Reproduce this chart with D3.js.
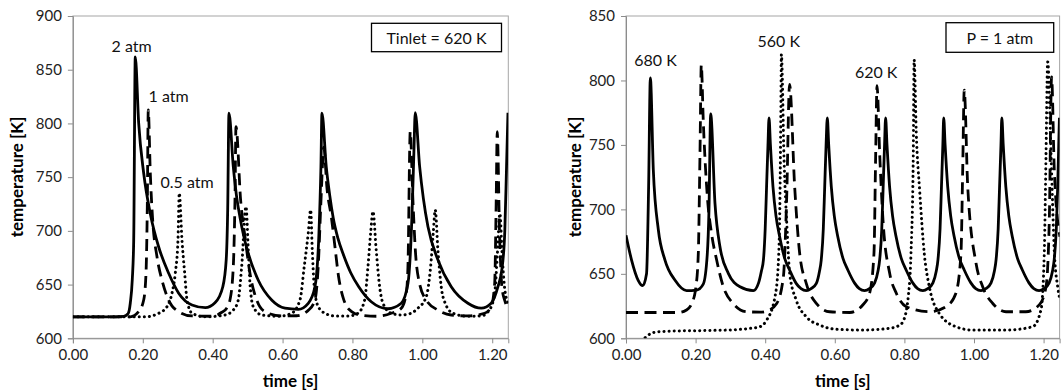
<!DOCTYPE html>
<html><head><meta charset="utf-8">
<script src="https://cdn.jsdelivr.net/npm/d3@7"></script>
<style>
html,body{margin:0;padding:0;background:#fff;}
svg{display:block;font-family:Lato,"Noto Sans",sans-serif;}
</style></head><body>
<svg id="chart" width="1061" height="391"></svg>
<script>
// ---------- data ----------
const xTicks = [0, 0.2, 0.4, 0.6, 0.8, 1.0, 1.2];
const leftYTicks = [600, 650, 700, 750, 800, 850, 900];
const rightYTicks = [600, 650, 700, 750, 800, 850];

// Left panel: Tinlet = 620 K, pressures
const left2atm = [[0,620],[0.10,620],[0.1453,620.5],[0.158,623],[0.1642,632.6],[0.170,655],[0.174,691],[0.1785,862],[0.1883,800],[0.2026,753.6],[0.2215,716],[0.2455,685],[0.2741,660.5],[0.3027,642],[0.3408,631],[0.3788,628.5],[0.4066,633],[0.429,648],[0.4387,673],[0.443,720],[0.4466,809.5],[0.459,759.7],[0.468,733],[0.478,713],[0.489,695],[0.5019,679],[0.5305,654],[0.5688,635.6],[0.6069,628],[0.645,627],[0.6735,632.6],[0.6927,648],[0.7041,697.7],[0.7098,759.7],[0.7127,809.5],[0.725,759.7],[0.735,733],[0.745,712],[0.7585,693],[0.775,677],[0.795,661],[0.818,648],[0.8538,634],[0.9016,627.5],[0.9396,632.6],[0.9588,651],[0.9702,713],[0.976,775],[0.9797,810],[0.9923,759.7],[1.003,730],[1.016,704],[1.0446,673],[1.0827,648],[1.1305,632.6],[1.1685,628],[1.197,632.6],[1.2163,648],[1.228,665],[1.236,700],[1.241,760],[1.245,810]];
const left1atm = [[0,620],[0.164,620],[0.188,624.8],[0.2026,635.6],[0.2092,660.5],[0.2129,722.5],[0.2157,812.5],[0.2215,753.6],[0.2283,710],[0.2406,676],[0.255,654],[0.274,635.6],[0.3027,624.8],[0.3408,620.8],[0.40,620.5],[0.425,624],[0.44,628],[0.4495,635.7],[0.459,666.6],[0.4638,728.7],[0.4667,797],[0.480,728.7],[0.4937,691.5],[0.5067,660.5],[0.526,635.6],[0.5496,624.8],[0.5974,620.8],[0.64,621],[0.6735,626],[0.6927,635.7],[0.702,666.6],[0.71,728.7],[0.718,778],[0.727,740],[0.74,712],[0.75,685],[0.76,658],[0.775,636],[0.7977,624.8],[0.8215,621.7],[0.87,620.5],[0.911,623.3],[0.9397,628],[0.954,642],[0.9588,666.6],[0.9654,792.3],[0.973,728.7],[0.98,682],[0.992,651],[1.011,635.7],[1.0446,626.3],[1.0827,621.7],[1.13,620.8],[1.178,623.3],[1.197,629.4],[1.207,651],[1.2114,728.7],[1.2143,792.3],[1.221,697.7],[1.2277,648],[1.236,635],[1.245,628]];
const left05atm = [[0,620],[0.2072,620],[0.2455,623.3],[0.2692,629.4],[0.2835,641.9],[0.293,660.5],[0.3007,691.5],[0.3044,735],[0.3121,691.5],[0.3199,660.5],[0.3265,635.7],[0.3408,623.3],[0.3788,620],[0.4352,621.7],[0.459,626.3],[0.4733,635.7],[0.483,666.6],[0.4953,722.5],[0.5019,682],[0.5067,651],[0.5162,629.4],[0.5402,621.7],[0.59,620.5],[0.626,623.3],[0.6498,635.7],[0.662,666.6],[0.6735,697.7],[0.6804,719.4],[0.685,682],[0.6907,648],[0.7021,629.4],[0.7213,623.3],[0.75,620.8],[0.79,620.8],[0.8157,623.3],[0.8349,635.7],[0.8444,666.6],[0.852,697.7],[0.8587,718],[0.868,682],[0.8778,648],[0.8873,632.6],[0.911,623.3],[0.9396,621.7],[0.965,623],[0.9874,628],[1.0112,638.7],[1.0237,666.6],[1.0312,697.7],[1.0369,719.4],[1.0446,682],[1.054,648],[1.0655,632.6],[1.0876,623.3],[1.13,620.5],[1.17,621],[1.195,628],[1.208,645],[1.215,680],[1.222,716],[1.228,680],[1.235,648],[1.245,633]];

// Right panel: P = 1 atm, inlet temperatures
const right680K = [[0,680],[0.016,660.7],[0.035,645],[0.048,640.8],[0.059,650],[0.065,717.5],[0.070,802],[0.0785,730.5],[0.093,684],[0.112,660.7],[0.141,645],[0.174,637],[0.203,637.4],[0.222,642],[0.2335,665],[0.2385,700],[0.2433,774],[0.2557,704.6],[0.270,671],[0.294,650.4],[0.3276,640],[0.366,637],[0.381,643],[0.389,652],[0.395,661],[0.400,685],[0.404,718],[0.408,750],[0.411,771],[0.415,750],[0.4224,717.5],[0.431,695],[0.4416,678.8],[0.456,662],[0.470,653],[0.489,642.6],[0.503,638.5],[0.518,637],[0.532,638.5],[0.547,642.6],[0.556,652],[0.561,660.7],[0.567,685],[0.571,717.5],[0.575,750],[0.5785,771],[0.5825,750],[0.590,717.5],[0.5985,695],[0.6085,679],[0.6235,662],[0.6375,653],[0.6565,643],[0.6705,638.5],[0.6855,637],[0.6995,638.5],[0.7145,643],[0.724,652],[0.729,661],[0.735,685],[0.739,717.5],[0.743,750],[0.746,771],[0.750,750],[0.7575,717.5],[0.766,695],[0.776,679],[0.791,662],[0.805,653],[0.824,643],[0.838,638.5],[0.853,637],[0.867,638.5],[0.882,643],[0.8915,652],[0.8965,661],[0.9025,685],[0.9065,717.5],[0.9105,750],[0.913,771],[0.917,750],[0.9245,717.5],[0.933,695],[0.943,679],[0.958,662],[0.972,653],[0.991,643],[1.005,638.5],[1.020,637],[1.034,638.5],[1.049,643],[1.0585,652],[1.0635,661],[1.0695,685],[1.0735,717.5],[1.0775,750],[1.080,771],[1.084,750],[1.0915,717.5],[1.100,695],[1.110,679],[1.125,662],[1.139,653],[1.158,643],[1.172,638.5],[1.187,637],[1.201,638.5],[1.216,643],[1.2255,652],[1.2305,661],[1.2365,685],[1.2405,717.5],[1.2435,750],[1.2455,771]];
const right620K = [[0,620],[0.15,620],[0.174,622],[0.189,627],[0.201,640],[0.2078,666],[0.2126,743],[0.2164,812],[0.222,769],[0.2337,710],[0.246,681],[0.2605,660.7],[0.2796,640],[0.308,627],[0.347,620.6],[0.385,620.3],[0.404,621],[0.433,627],[0.4523,647.8],[0.4618,709.8],[0.470,797],[0.4847,717.5],[0.499,666],[0.518,642.6],[0.547,627],[0.585,620.6],[0.643,620],[0.681,626],[0.700,635],[0.7126,666],[0.7175,743],[0.7213,796],[0.729,743],[0.7385,691.7],[0.7577,650.4],[0.7768,635],[0.8055,624.5],[0.8716,620.6],[0.9195,624.5],[0.948,635],[0.9626,666],[0.9675,730],[0.972,792.5],[0.982,717.5],[1.006,658],[1.025,640],[1.054,627],[1.092,620.6],[1.149,620.6],[1.188,626],[1.207,640],[1.2164,691.7],[1.223,802.8],[1.2308,730],[1.247,678.8]];
const right560K = [[0.055,600.5],[0.07,603.5],[0.09,605],[0.126,605.5],[0.222,606],[0.30,606.5],[0.35,607.5],[0.385,609],[0.404,614],[0.428,632],[0.4377,658],[0.4425,709.8],[0.4454,787],[0.4465,820],[0.454,740],[0.4635,681],[0.4703,650.4],[0.489,629.7],[0.518,616.7],[0.5565,610.3],[0.604,607],[0.681,606.4],[0.7577,607.8],[0.785,610],[0.796,613],[0.811,632],[0.819,666],[0.8256,743],[0.828,816],[0.834,760],[0.844,714],[0.857,666],[0.8716,640],[0.900,619.4],[0.948,609],[0.996,606.4],[1.092,606.4],[1.1686,609],[1.1925,622],[1.202,666],[1.207,743],[1.2118,814.4],[1.2213,743],[1.231,666],[1.2405,640],[1.247,630]];

const leftLabels = [{text:"2 atm", t:0.168, T:863}, {text:"1 atm", t:0.274, T:816}, {text:"0.5 atm", t:0.327, T:736}];
const rightLabels = [{text:"680 K", t:0.085, T:808}, {text:"560 K", t:0.439, T:823}, {text:"620 K", t:0.719, T:799}];

// ---------- drawing ----------
const svg = d3.select("#chart");
const styles = {
  solid: {w: 2.8, dash: null, cap: "butt"},
  dashed: {w: 2.8, dash: "12,6.5", cap: "butt"},
  dotted: {w: 3, dash: "0.1,5", cap: "round"}
};

function panel(cfg){
  const x = d3.scaleLinear().domain([0, 1.246]).range([cfg.x0, cfg.x1]);
  const y = d3.scaleLinear().domain(cfg.ydom).range([338.3, 16]);
  const g = svg.append("g");
  const clipId = "clip" + cfg.id;
  svg.append("clipPath").attr("id", clipId).append("rect")
    .attr("x", cfg.x0).attr("y", 16).attr("width", cfg.x1 - cfg.x0).attr("height", 338.3 - 16);

  g.append("rect").attr("x", cfg.x0).attr("y", 16).attr("width", cfg.x1 - cfg.x0).attr("height", 338.3 - 16)
    .attr("fill", "none").attr("stroke", "#a6a6a6").attr("stroke-width", 1);

  const ax = g.append("g").attr("transform", `translate(0,338.3)`)
    .call(d3.axisBottom(x).tickValues(xTicks).tickFormat(d3.format(".2f")).tickSize(5).tickPadding(6));
  const ay = g.append("g").attr("transform", `translate(${cfg.x0},0)`)
    .call(d3.axisLeft(y).tickValues(cfg.yticks).tickFormat(d3.format("d")).tickSize(5).tickPadding(6));
  [ax, ay].forEach(a => {
    a.select(".domain").attr("stroke", "#8c8c8c");
    a.selectAll(".tick line").attr("stroke", "#8c8c8c");
    a.selectAll("text").attr("font-size", 15).attr("fill", "#222").attr("font-family", "Lato");
  });

  const line = d3.line().x(d => x(d[0])).y(d => y(d[1])).curve(d3.curveMonotoneX);
  const lg = g.append("g").attr("clip-path", `url(#${clipId})`);
  cfg.series.forEach(s => {
    const st = styles[s.style];
    lg.append("path").datum(s.data).attr("d", line).attr("fill", "none")
      .attr("stroke", "#000").attr("stroke-width", st.w)
      .attr("stroke-dasharray", st.dash).attr("stroke-linecap", st.cap)
      .attr("stroke-linejoin", "round");
  });

  cfg.labels.forEach(l => {
    g.append("text").attr("x", x(l.t)).attr("y", y(l.T) - 4).attr("text-anchor", "middle")
      .attr("font-size", 16).attr("fill", "#111").text(l.text);
  });

  g.append("rect").attr("x", cfg.box[0]).attr("y", cfg.box[1]).attr("width", cfg.box[2]).attr("height", cfg.box[3])
    .attr("fill", "#fff").attr("stroke", "#000").attr("stroke-width", 1.3);
  g.append("text").attr("x", cfg.box[0] + cfg.box[2] / 2).attr("y", cfg.box[1] + cfg.box[3] / 2)
    .attr("text-anchor", "middle").attr("dominant-baseline", "central")
    .attr("font-size", 16).attr("fill", "#111").text(cfg.boxText);

  g.append("text").attr("x", (cfg.x0 + cfg.x1) / 2).attr("y", 380).attr("text-anchor", "middle")
    .attr("dominant-baseline", "central").attr("font-weight", "bold").attr("font-size", 17).text("time [s]");
  g.append("text").attr("transform", `translate(${cfg.ytx},177) rotate(-90)`).attr("text-anchor", "middle")
    .attr("dominant-baseline", "central").attr("font-weight", "bold").attr("font-size", 17).text("temperature [K]");
}

panel({id: "L", x0: 72.9, x1: 508.3, ydom: [600, 900], yticks: leftYTicks,
  series: [{data: left2atm, style: "solid"}, {data: left1atm, style: "dashed"}, {data: left05atm, style: "dotted"}],
  labels: leftLabels, box: [371.5, 23.3, 130, 28.4], boxText: "Tinlet = 620 K", ytx: 16});
panel({id: "R", x0: 626, x1: 1059.6, ydom: [600, 850], yticks: rightYTicks,
  series: [{data: right680K, style: "solid"}, {data: right620K, style: "dashed"}, {data: right560K, style: "dotted"}],
  labels: rightLabels, box: [946, 22.7, 107.7, 29.6], boxText: "P = 1 atm", ytx: 574});
</script>
</body></html>
